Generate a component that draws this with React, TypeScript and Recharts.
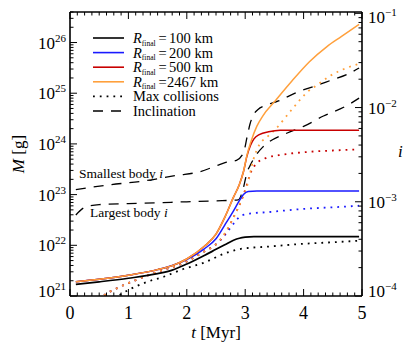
import React from "react";
import { Line, LineChart, XAxis, YAxis } from "recharts";

const FONT = '"Liberation Serif", "Times New Roman", serif';
const BLACK = "#000000";
const BLUE = "#1a1aff";
const RED = "#c80000";
const ORANGE = "#ffa03c";

// time [Myr] / log10 mass [g]
const tM100 = [0.1, 0.5, 1.0, 1.5, 1.75, 2.0, 2.3, 2.5, 2.65, 2.8, 2.9, 3.0, 3.15, 3.5, 4.0, 4.5, 4.95];
const logM100 = [21.23, 21.28, 21.35, 21.44, 21.51, 21.63, 21.8, 21.92, 22.01, 22.1, 22.14, 22.16, 22.17, 22.17, 22.17, 22.17, 22.17];
const tMax100 = [0.75, 0.97, 1.3, 1.63, 1.91, 2.3, 2.65, 2.88, 3.08, 3.34, 4.0, 4.5, 4.95];
const logMax100 = [20.95, 21.1, 21.27, 21.39, 21.52, 21.66, 21.84, 21.92, 21.95, 21.97, 22.03, 22.06, 22.09];

const tM200 = [0.1, 0.5, 1.0, 1.5, 1.75, 2.0, 2.3, 2.5, 2.65, 2.8, 2.9, 2.97, 3.05, 3.2, 4.0, 4.95];
const logM200 = [21.28, 21.33, 21.41, 21.52, 21.6, 21.72, 21.93, 22.13, 22.4, 22.68, 22.88, 23.0, 23.06, 23.07, 23.07, 23.07];
const tMax200 = [0.5, 0.57, 0.8, 1.14, 1.48, 2.0, 2.3, 2.5, 2.65, 2.83, 2.91, 3.0, 3.1, 3.34, 4.02, 4.5, 4.95];
const logMax200 = [20.92, 21.0, 21.15, 21.32, 21.47, 21.68, 21.88, 22.02, 22.2, 22.47, 22.57, 22.61, 22.63, 22.65, 22.72, 22.75, 22.78];

const tM500 = [0.1, 0.5, 1.0, 1.5, 1.75, 2.0, 2.3, 2.5, 2.65, 2.8, 2.9, 2.97, 3.03, 3.09, 3.15, 3.25, 3.4, 3.6, 4.0, 4.95];
const logM500 = [21.28, 21.33, 21.41, 21.52, 21.6, 21.73, 21.98, 22.22, 22.55, 22.95, 23.2, 23.45, 23.76, 23.97, 24.1, 24.19, 24.24, 24.27, 24.27, 24.27];
const tMax500 = [0.5, 0.57, 0.8, 1.14, 1.48, 2.0, 2.3, 2.5, 2.65, 2.8, 2.94, 3.03, 3.1, 3.2, 3.35, 3.65, 4.05, 4.5, 4.95];
const logMax500 = [20.92, 21.0, 21.15, 21.32, 21.47, 21.68, 21.88, 22.02, 22.22, 22.55, 22.9, 23.2, 23.45, 23.62, 23.72, 23.79, 23.84, 23.87, 23.89];

const tM2467 = [0.1, 0.5, 1.0, 1.5, 1.75, 2.0, 2.3, 2.5, 2.65, 2.8, 2.9, 2.97, 3.03, 3.1, 3.2, 3.3, 3.5, 3.8, 4.1, 4.4, 4.65, 4.95];
const logM2467 = [21.28, 21.33, 21.41, 21.52, 21.6, 21.73, 21.98, 22.22, 22.55, 22.95, 23.2, 23.45, 23.78, 24.05, 24.35, 24.55, 24.83, 25.24, 25.62, 25.92, 26.12, 26.36];
const tMax2467 = [0.5, 0.57, 0.8, 1.14, 1.48, 2.0, 2.3, 2.5, 2.65, 2.8, 2.94, 3.03, 3.14, 3.25, 3.37, 3.51, 3.8, 4.08, 4.23, 4.45, 4.74, 4.95];
const logMax2467 = [20.92, 21.0, 21.15, 21.32, 21.47, 21.68, 21.88, 22.02, 22.24, 22.55, 22.9, 23.16, 23.69, 24.0, 24.13, 24.28, 24.68, 25.04, 25.16, 25.34, 25.5, 25.58];

// log10 inclination (right axis)
const tIncSmall = [0.1, 0.68, 1.25, 1.83, 2.23, 2.5, 2.68, 2.85, 2.97, 3.03, 3.08, 3.14, 3.22, 3.34, 3.57, 3.88, 4.2, 4.47, 4.74, 4.95];
const logIncSmall = [-2.87, -2.82, -2.78, -2.72, -2.68, -2.62, -2.58, -2.56, -2.48, -2.32, -2.18, -2.08, -2.02, -1.98, -1.93, -1.84, -1.77, -1.71, -1.65, -1.58];
const tIncLarge = [0.1, 0.25, 0.5, 1.0, 1.5, 2.0, 2.5, 2.88, 2.97, 3.03, 3.08, 3.17, 3.3, 3.42, 3.72, 4.0, 4.34, 4.74, 4.95];
const logIncLarge = [-3.14, -3.06, -3.03, -3.02, -3.01, -3.0, -2.99, -2.98, -2.85, -2.69, -2.62, -2.52, -2.42, -2.36, -2.27, -2.2, -2.09, -1.98, -1.9];

const massDecades = [21, 22, 23, 24, 25, 26];
const incDecades = [-4, -3, -2, -1];
const timeMajors = [0, 1, 2, 3, 4, 5];
const legendLabels = ["100", "200", "500", "2467"];

const M_MIN = 1e21;
const M_MAX = 4e26;
const I_MIN = 1e-4;
const I_MAX = 0.1033;

const toData = (t: number[], lg: number[]) => t.map((tt, k) => ({ t: tt, v: Math.pow(10, lg[k]) }));

const logTicks = (decades: number[], max: number) => {
  const out: number[] = [];
  decades.forEach((d) => {
    for (let m = 1; m <= 9; m++) {
      const v = m * Math.pow(10, d);
      if (v <= max * 1.0001) out.push(v);
    }
  });
  return out;
};
const massTicks = logTicks(massDecades, M_MAX);
const incTicks = logTicks(incDecades, I_MAX);
const timeTicks: number[] = [];
timeMajors.forEach((m) => {
  if (m < 5) for (let k = 0; k < 8; k++) timeTicks.push(m + k / 8);
  else timeTicks.push(m);
});

const isMajorLog = (v: number) => {
  const e = Math.log10(v);
  return Math.abs(e - Math.round(e)) < 1e-6;
};

const MassTick = (props: any) => {
  const { x, y, payload } = props;
  const v = payload.value;
  const major = isMajorLog(v);
  const shift = v <= M_MIN * 1.0001 ? -5 : 0;
  return (
    <g>
      <line x1={x} y1={y} x2={x + (major ? 7 : 3.5)} y2={y} stroke={BLACK} strokeWidth={1} />
      {major && (
        <text x={x - 4} y={y + 6 + shift} textAnchor="end" fontFamily={FONT} fontSize={17} fill={BLACK}>
          10<tspan dy={-7} fontSize={11}>{Math.round(Math.log10(v))}</tspan>
        </text>
      )}
    </g>
  );
};

const IncTick = (props: any) => {
  const { x, y, payload } = props;
  const v = payload.value;
  const major = isMajorLog(v);
  const shift = v <= I_MIN * 1.0001 ? -5 : Math.log10(v) > -1.01 ? 4 : 0;
  return (
    <g>
      <line x1={x} y1={y} x2={x - (major ? 7 : 3.5)} y2={y} stroke={BLACK} strokeWidth={1} />
      {major && (
        <text x={x + 6} y={y + 6 + shift} textAnchor="start" fontFamily={FONT} fontSize={17} fill={BLACK}>
          10<tspan dy={-7} fontSize={11}>{"\u2212" + Math.abs(Math.round(Math.log10(v)))}</tspan>
        </text>
      )}
    </g>
  );
};

const TimeTick = (props: any) => {
  const { x, y, payload } = props;
  const major = Math.abs(payload.value - Math.round(payload.value)) < 1e-6;
  return (
    <g>
      <line x1={x} y1={y} x2={x} y2={y - (major ? 7 : 3.5)} stroke={BLACK} strokeWidth={1} />
      {major && (
        <text x={x} y={y + 23} textAnchor="middle" fontFamily={FONT} fontSize={18} fill={BLACK}>
          {payload.value}
        </text>
      )}
    </g>
  );
};

const TopTick = (props: any) => {
  const { x, y, payload } = props;
  const major = Math.abs(payload.value - Math.round(payload.value)) < 1e-6;
  return <line x1={x} y1={y} x2={x} y2={y + (major ? 7 : 3.5)} stroke={BLACK} strokeWidth={1} />;
};

type Series = { key: string; data: { t: number; v: number }[]; color: string; dash?: string; width: number; axis: string };

const DOT = "1.8 5";
const DASH = "10 8";

const series: Series[] = [
  { key: "incSmall", data: toData(tIncSmall, logIncSmall), color: BLACK, dash: DASH, width: 1.3, axis: "i" },
  { key: "incLarge", data: toData(tIncLarge, logIncLarge), color: BLACK, dash: DASH, width: 1.3, axis: "i" },
  { key: "max100", data: toData(tMax100, logMax100), color: BLACK, dash: DOT, width: 1.8, axis: "m" },
  { key: "max200", data: toData(tMax200, logMax200), color: BLUE, dash: DOT, width: 1.8, axis: "m" },
  { key: "max500", data: toData(tMax500, logMax500), color: RED, dash: DOT, width: 1.8, axis: "m" },
  { key: "max2467", data: toData(tMax2467, logMax2467), color: ORANGE, dash: DOT, width: 1.8, axis: "m" },
  { key: "m100", data: toData(tM100, logM100), color: BLACK, width: 1.7, axis: "m" },
  { key: "m200", data: toData(tM200, logM200), color: BLUE, width: 1.5, axis: "m" },
  { key: "m500", data: toData(tM500, logM500), color: RED, width: 1.5, axis: "m" },
  { key: "m2467", data: toData(tM2467, logM2467), color: ORANGE, width: 1.5, axis: "m" },
];

const legendColors = [BLACK, BLUE, RED, ORANGE];

export default function App() {
  const rowY = [38, 52.6, 67.2, 81.8, 96.4, 111];
  return (
    <div style={{ position: "relative", width: 414, height: 344, background: "#fff" }}>
      <style>{"body{margin:0}"}</style>
      <LineChart width={414} height={344} margin={{ top: 0, right: 0, bottom: 0, left: 0 }}>
        <XAxis
          xAxisId="b"
          type="number"
          dataKey="t"
          domain={[0, 5]}
          ticks={timeTicks}
          interval={0}
          allowDataOverflow
          height={48}
          tickSize={0}
          tickMargin={0}
          tickLine={false}
          axisLine={{ stroke: BLACK, strokeWidth: 1.6 }}
          tick={<TimeTick />}
        />
        <XAxis
          xAxisId="top"
          orientation="top"
          type="number"
          dataKey="t"
          domain={[0, 5]}
          ticks={timeTicks}
          interval={0}
          allowDataOverflow
          height={12}
          tickSize={0}
          tickMargin={0}
          tickLine={false}
          axisLine={{ stroke: BLACK, strokeWidth: 1.6 }}
          tick={<TopTick />}
        />
        <YAxis
          yAxisId="m"
          type="number"
          scale="log"
          domain={[M_MIN, M_MAX]}
          ticks={massTicks}
          interval={0}
          allowDataOverflow
          width={70}
          tickSize={0}
          tickMargin={0}
          tickLine={false}
          axisLine={{ stroke: BLACK, strokeWidth: 1.6 }}
          tick={<MassTick />}
        />
        <YAxis
          yAxisId="i"
          orientation="right"
          type="number"
          scale="log"
          domain={[I_MIN, I_MAX]}
          ticks={incTicks}
          interval={0}
          allowDataOverflow
          width={52}
          tickSize={0}
          tickMargin={0}
          tickLine={false}
          axisLine={{ stroke: BLACK, strokeWidth: 1.6 }}
          tick={<IncTick />}
        />
        {series.map((s) => (
          <Line
            key={s.key}
            xAxisId="b"
            yAxisId={s.axis}
            data={s.data}
            dataKey="v"
            type="monotone"
            stroke={s.color}
            strokeWidth={s.width}
            strokeDasharray={s.dash}
            dot={false}
            activeDot={false}
            isAnimationActive={false}
          />
        ))}
      </LineChart>
      <svg width={414} height={344} style={{ position: "absolute", left: 0, top: 0, pointerEvents: "none" }} fontFamily={FONT}>
        {legendLabels.map((lab, k) => (
          <g key={lab}>
            <line x1={93} x2={124} y1={rowY[k]} y2={rowY[k]} stroke={legendColors[k]} strokeWidth={1.6} />
            <text y={rowY[k] + 5} fontSize={14.5} fill={BLACK}>
              <tspan x={133} fontStyle="italic">R</tspan>
              <tspan fontSize={7.5} dy={2.5}>final</tspan>
              <tspan x={158.5} dy={-2.5}>=</tspan>
              <tspan x={k === 3 ? 167 : 169}>{lab} km</tspan>
            </text>
          </g>
        ))}
        <line x1={93} x2={124} y1={rowY[4]} y2={rowY[4]} stroke={BLACK} strokeWidth={1.8} strokeDasharray={DOT} />
        <text x={133} y={rowY[4] + 5} fontSize={14.5}>Max collisions</text>
        <line x1={93} x2={124} y1={rowY[5]} y2={rowY[5]} stroke={BLACK} strokeWidth={1.3} strokeDasharray={DASH} />
        <text x={133} y={rowY[5] + 5} fontSize={14.5}>Inclination</text>

        <text x={79} y={177.5} fontSize={13.5}>
          Smallest body <tspan fontStyle="italic">i</tspan>
        </text>
        <text x={90} y={216.5} fontSize={13.5}>
          Largest body <tspan fontStyle="italic">i</tspan>
        </text>

        <text x={216} y={338} fontSize={17} textAnchor="middle">
          <tspan fontStyle="italic">t</tspan> [Myr]
        </text>
        <text x={0} y={0} fontSize={17} textAnchor="middle" transform="translate(24,154) rotate(-90)">
          <tspan fontStyle="italic">M</tspan> [g]
        </text>
        <text x={398} y={157} fontSize={17} fontStyle="italic">i</text>
      </svg>
    </div>
  );
}
